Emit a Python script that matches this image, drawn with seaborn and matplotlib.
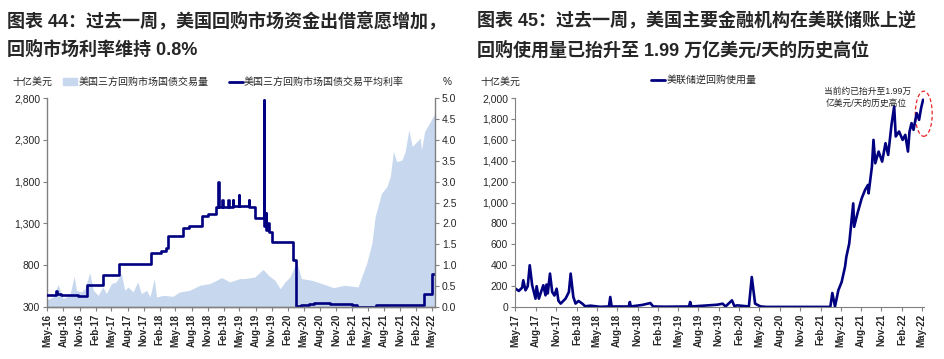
import pandas as pd
import matplotlib.pyplot as plt
import matplotlib.dates as mdates
import matplotlib.ticker as mticker
from matplotlib.patches import Ellipse, Patch
from matplotlib.lines import Line2D
import seaborn as sns

# ---- left chart: tri-party repo treasury volume (bn USD) and average rate (%)
vol_dates = ['2016-05-01', '2016-06-03', '2016-07-01', '2016-07-29', '2016-09-06',
             '2016-10-01', '2016-10-14', '2016-11-12', '2016-12-01', '2016-12-29',
             '2017-01-18', '2017-02-15', '2017-03-13', '2017-04-02', '2017-05-01',
             '2017-05-28', '2017-06-27', '2017-07-16', '2017-08-04', '2017-09-02',
             '2017-09-28', '2017-10-19', '2017-11-18', '2017-12-07', '2018-01-01',
             '2018-01-13', '2018-02-21', '2018-04-17', '2018-05-25', '2018-07-21',
             '2018-09-17', '2018-11-13', '2018-12-22', '2019-01-19', '2019-03-07',
             '2019-05-03', '2019-06-01', '2019-07-28', '2019-09-13', '2019-10-13',
             '2019-11-19', '2019-12-19', '2020-01-16', '2020-02-13', '2020-03-22',
             '2020-04-19', '2020-06-16', '2020-08-13', '2020-10-19', '2020-12-22',
             '2021-03-07', '2021-03-28', '2021-04-25', '2021-05-25', '2021-06-13',
             '2021-07-01', '2021-07-19', '2021-08-19', '2021-09-07', '2021-09-25',
             '2021-10-13', '2021-11-13', '2021-12-01', '2021-12-22', '2022-01-10',
             '2022-02-06', '2022-02-25', '2022-03-04', '2022-03-22', '2022-04-13',
             '2022-05-10', '2022-05-20']
vol_values = [390, 420, 570, 400, 440, 670, 500, 480, 520, 710,
              500, 440, 540, 460, 580, 600, 700, 500, 540, 480,
              600, 460, 500, 420, 640, 420, 440, 428, 480, 500,
              560, 580, 620, 653, 600, 640, 640, 660, 750, 680,
              620, 520, 600, 660, 840, 640, 620, 580, 532, 560,
              540, 660, 820, 1060, 1380, 1520, 1660, 1740, 1860, 2160,
              2040, 2060, 2160, 2420, 2220, 2280, 2320, 2180, 2400, 2480,
              2580, 2620]

rate_dates = ['2016-05-01', '2016-06-20', '2016-06-25', '2016-07-15', '2016-10-20',
              '2016-12-15', '2017-03-16', '2017-06-15', '2017-12-14', '2018-02-10',
              '2018-03-10', '2018-03-22', '2018-06-14', '2018-07-20', '2018-08-30',
              '2018-09-27', '2018-11-01', '2018-12-20', '2018-12-31', '2019-01-03',
              '2019-01-24', '2019-01-26', '2019-02-27', '2019-03-01', '2019-03-25',
              '2019-03-27', '2019-04-28', '2019-04-30', '2019-06-25', '2019-06-27',
              '2019-07-31', '2019-09-16', '2019-09-18', '2019-09-27', '2019-10-01',
              '2019-10-10', '2019-10-16', '2019-10-31', '2020-03-04', '2020-03-16',
              '2020-04-15', '2020-06-01', '2020-07-01', '2020-10-01', '2021-01-01',
              '2021-02-01', '2021-03-01', '2021-06-17', '2022-03-17', '2022-05-05',
              '2022-05-20']
rate_values = [0.29, 0.39, 0.30, 0.29, 0.26,
               0.52, 0.77, 1.03, 1.30, 1.34,
               1.42, 1.70, 1.88, 1.93, 1.95,
               2.18, 2.22, 2.40, 2.98, 2.40,
               2.55, 2.40, 2.55, 2.40, 2.56,
               2.42, 2.68, 2.42, 2.55, 2.40,
               2.13, 4.95, 1.95, 2.25, 1.85,
               2.00, 1.80, 1.56, 1.12, 0.03,
               0.05, 0.08, 0.10, 0.08, 0.07,
               0.04, 0.01, 0.05, 0.30, 0.79,
               0.79]

# ---- right chart: Fed overnight reverse repo usage (bn USD)
rrp_dates = ['2017-05-01', '2017-05-16', '2017-05-31', '2017-06-05', '2017-06-15',
             '2017-06-25', '2017-07-04', '2017-07-15', '2017-07-30', '2017-08-04',
             '2017-08-14', '2017-09-03', '2017-09-13', '2017-09-18', '2017-09-23',
             '2017-10-03', '2017-10-13', '2017-10-23', '2017-11-02', '2017-11-10',
             '2017-11-20', '2017-12-12', '2017-12-27', '2018-01-04', '2018-01-16',
             '2018-01-26', '2018-02-08', '2018-02-25', '2018-03-10', '2018-04-03',
             '2018-05-16', '2018-06-25', '2018-07-01', '2018-07-07', '2018-09-22',
             '2018-09-27', '2018-10-01', '2018-11-22', '2018-12-28', '2019-01-10',
             '2019-03-01', '2019-06-20', '2019-06-25', '2019-07-01', '2019-09-15',
             '2019-10-25', '2019-11-18', '2019-12-01', '2019-12-30', '2020-01-10',
             '2020-01-22', '2020-03-15', '2020-03-28', '2020-04-12', '2020-05-06',
             '2020-06-01', '2021-03-16', '2021-03-25', '2021-04-06', '2021-04-21',
             '2021-05-06', '2021-05-21', '2021-05-27', '2021-06-09', '2021-06-18',
             '2021-06-27', '2021-07-01', '2021-07-16', '2021-08-04', '2021-08-19',
             '2021-09-01', '2021-09-04', '2021-09-19', '2021-09-26', '2021-10-04',
             '2021-10-19', '2021-11-04', '2021-11-19', '2021-12-01', '2021-12-16',
             '2021-12-28', '2022-01-04', '2022-01-19', '2022-02-04', '2022-02-16',
             '2022-02-28', '2022-03-07', '2022-03-16', '2022-03-25', '2022-04-08',
             '2022-04-19', '2022-04-28', '2022-05-07']
rrp_values = [176, 154, 186, 256, 160,
              199, 400, 208, 80, 199,
              80, 208, 112, 215, 130,
              320, 144, 110, 175, 60,
              33, 80, 144, 320, 96,
              33, 58, 33, 7, 13,
              2, 5, 96, 5, 5,
              48, 5, 20, 38, 5,
              3, 5, 48, 5, 16,
              22, 32, 5, 64, 8,
              16, 5, 287, 32, 6,
              1, 1, 134, 5, 160,
              240, 384, 480, 608, 800,
              992, 768, 896, 1040, 1120,
              1168, 1088, 1344, 1600, 1376,
              1488, 1392, 1568, 1456, 1744,
              1920, 1632, 1680, 1600, 1648,
              1488, 1680, 1760, 1696, 1856,
              1792, 1904, 1984]

AREA = '#c6d7ee'
NAVY = '#000080'
GRAY = '#808080'

sns.set_style('white')
plt.rcParams['font.family'] = ['Liberation Sans', 'Noto Sans CJK SC']
plt.rcParams['axes.unicode_minus'] = False

vol = pd.DataFrame({'date': pd.to_datetime(vol_dates), 'value': vol_values})
rate = pd.DataFrame({'date': pd.to_datetime(rate_dates), 'value': rate_values})
rrp = pd.DataFrame({'date': pd.to_datetime(rrp_dates), 'value': rrp_values})

fig = plt.figure(figsize=(9.44, 3.59), dpi=100)


def style_x(ax, start, end):
    ax.set_xlim(pd.Timestamp(start), pd.Timestamp(end))
    ax.xaxis.set_major_locator(mdates.MonthLocator(bymonth=[2, 5, 8, 11]))
    ax.xaxis.set_major_formatter(mdates.DateFormatter('%b-%y'))
    ax.tick_params(axis='x', direction='out', length=3, color=GRAY, labelsize=7,
                   pad=2, rotation=90, bottom=True)
    for lbl in ax.get_xticklabels():
        lbl.set_fontweight('bold')
    ax.set_xlabel('')


# ---------------- left chart
ax1 = fig.add_axes([0.0498, 0.1448, 0.4110, 0.5820])
ax1.fill_between(vol['date'], 300, vol['value'], color=AREA, lw=0)
ax1.set_ylim(300, 2800)
ax1.set_yticks(range(300, 2801, 500))
ax1.yaxis.set_major_formatter(mticker.StrMethodFormatter('{x:,.0f}'))
ax1.tick_params(axis='y', direction='out', length=3, color=GRAY, labelsize=7.5, pad=2, left=True)

ax1r = ax1.twinx()
sns.lineplot(data=rate, x='date', y='value', ax=ax1r, color=NAVY, lw=1.9,
             drawstyle='steps-post', estimator=None)
ax1r.set_ylim(0, 5)
ax1r.set_yticks([i * 0.5 for i in range(11)])
ax1r.yaxis.set_major_formatter(mticker.StrMethodFormatter('{x:.1f}'))
ax1r.tick_params(axis='y', direction='out', length=3, color=GRAY, labelsize=7.5, pad=2, right=True)
ax1r.set_ylabel('')
style_x(ax1, '2016-04-29', '2022-05-20')
style_x(ax1r, '2016-04-29', '2022-05-20')

for a in (ax1, ax1r):
    a.spines['top'].set_visible(False)
    for s in ('left', 'right', 'bottom'):
        a.spines[s].set_color(GRAY)
        a.spines[s].set_linewidth(1.0)
ax1r.spines['left'].set_visible(False)
ax1.spines['right'].set_visible(False)

# ---------------- right chart
ax2 = fig.add_axes([0.5456, 0.1448, 0.4332, 0.5820])
sns.lineplot(data=rrp, x='date', y='value', ax=ax2, color=NAVY, lw=1.9, estimator=None)
ax2.set_ylim(0, 2000)
ax2.set_yticks(range(0, 2001, 200))
ax2.yaxis.set_major_formatter(mticker.StrMethodFormatter('{x:,.0f}'))
ax2.tick_params(axis='y', direction='out', length=3, color=GRAY, labelsize=7.5, pad=2, left=True)
ax2.set_ylabel('')
style_x(ax2, '2017-04-29', '2022-05-11')
ax2.spines['top'].set_visible(False)
ax2.spines['right'].set_visible(False)
for s in ('left', 'bottom'):
    ax2.spines[s].set_color(GRAY)

ell = Ellipse((mdates.date2num(pd.Timestamp('2022-05-10')), 1850), width=76, height=432,
              fill=False, ec='#e8262a', ls=(0, (3, 2)), lw=0.9, clip_on=False)
ax2.add_patch(ell)
fig.text(824 / 944, 1 - 91 / 359, '当前约已抬升至1.99万', fontsize=6.3, va='center')
fig.text(826 / 944, 1 - 103 / 359, '亿美元/天的历史高位', fontsize=6.3, va='center')

# ---------------- titles, units, legends
title_kw = dict(fontsize=13, fontweight='bold', va='center', ha='left')
fig.text(7 / 944, 1 - 21 / 359, '图表 44：过去一周，美国回购市场资金出借意愿增加，', **title_kw)
fig.text(7 / 944, 1 - 50 / 359, '回购市场利率维持 0.8%', **title_kw)
fig.text(477 / 944, 1 - 21 / 359, '图表 45：过去一周，美国主要金融机构在美联储账上逆', **title_kw)
fig.text(477 / 944, 1 - 50 / 359, '回购使用量已抬升至 1.99 万亿美元/天的历史高位', **title_kw)

fig.text(12 / 944, 1 - 82 / 359, '十亿美元', fontsize=7.2, va='center')
fig.text(443 / 944, 1 - 82 / 359, '%', fontsize=7.2, va='center')
fig.text(480 / 944, 1 - 82 / 359, '十亿美元', fontsize=7.2, va='center')

leg_kw = dict(frameon=False, fontsize=7.2, handlelength=1.4, handletextpad=0.15,
              borderaxespad=0, borderpad=0, loc='center left')
fig.legend(handles=[Patch(color=AREA), Line2D([], [], color=NAVY, lw=2)],
           labels=['美国三方回购市场国债交易量', '美国三方回购市场国债交易平均利率'],
           ncol=2, columnspacing=2.0, bbox_to_anchor=(63 / 944, 1 - 82 / 359), **leg_kw)
fig.legend(handles=[Line2D([], [], color=NAVY, lw=2)], labels=['美联储逆回购使用量'],
           bbox_to_anchor=(651 / 944, 1 - 80 / 359), **leg_kw)

fig.savefig('out.png', dpi=100)
